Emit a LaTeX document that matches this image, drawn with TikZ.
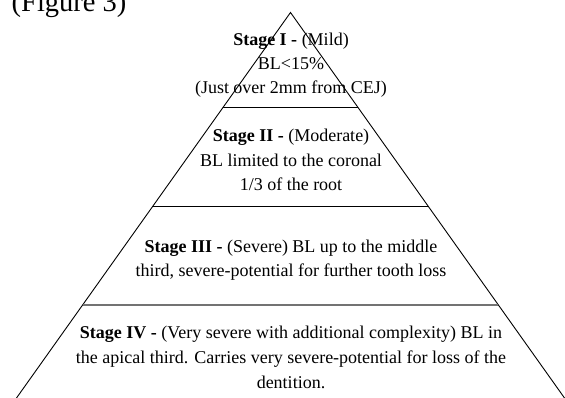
\documentclass[tikz,border=0pt]{standalone}
\usepackage{fontspec}
\setmainfont{Liberation Serif}
\usetikzlibrary{calc}
\tikzset{
  edge/.style={draw=black, line width=0.9pt},
  sep/.style={draw=black, line width=0.9pt},
  sepgray/.style={draw=black!55, line width=1.7pt},
  stagetext/.style={align=center, anchor=base, inner sep=0pt,
    font=\fontsize{18}{24.5}\selectfont},
}
\begin{document}
\begin{tikzpicture}[x=1pt,y=-1pt]
\useasboundingbox (0,0) rectangle (565,398);
% title
\node[anchor=base west, inner sep=0pt, font=\fontsize{28.5}{30}\selectfont] (fig) at (11.5,11.5) {(Figure 3)};
% pyramid
\coordinate (A) at (290.5,12.5);
\coordinate (L) at (16.5,398);
\coordinate (R) at (564.5,398);
\draw[edge] (L) -- (A) -- (R);
\coordinate (l1) at ($(A)!0.2464!(L)$);
\coordinate (r1) at ($(A)!0.2464!(R)$);
\coordinate (l2) at ($(A)!0.5032!(L)$);
\coordinate (r2) at ($(A)!0.5032!(R)$);
\coordinate (l3) at ($(A)!0.7588!(L)$);
\coordinate (r3) at ($(A)!0.7588!(R)$);
\draw[sep] (l1) -- (r1);
\draw[sep] (l2) -- (r2);
\draw[sepgray] (l3) -- (r3);
% texts (anchor=base is the baseline of the last line)
\node[stagetext, font=\fontsize{18}{24}\selectfont] (s1) at (291,94)
  {\textbf{Stage I -} (Mild)\\BL<15\%\\(Just over 2mm from CEJ)};
\node[stagetext] (s2) at (291,191)
  {\textbf{Stage II -} (Moderate)\\BL limited to the coronal\\1/3 of the root};
\node[stagetext] (s3) at (291,276.7)
  {\textbf{Stage III -} (Severe) BL up to the middle\\third, severe-potential for further tooth loss};
\node[stagetext, font=\fontsize{18}{25}\selectfont] (s4) at (291,388)
  {\textbf{Stage IV -} (Very severe with additional complexity) BL in\\the apical third. Carries very severe-potential for loss of the\\dentition.};
\end{tikzpicture}
\end{document}
